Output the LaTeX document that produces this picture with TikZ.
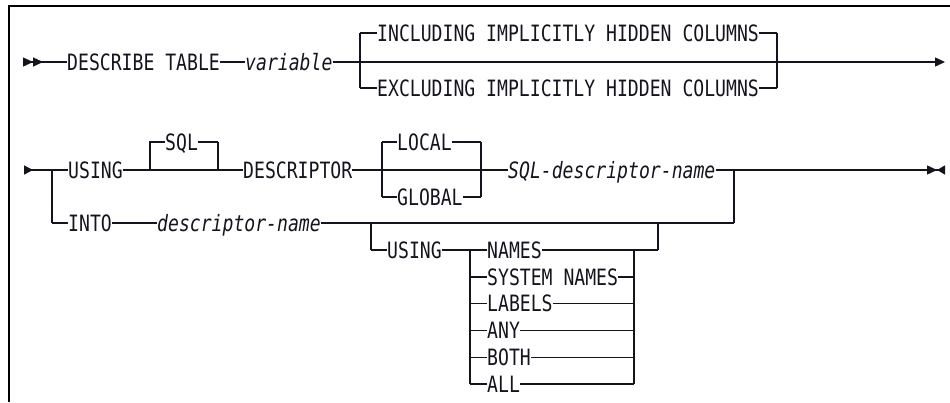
\documentclass[tikz,border=0pt]{standalone}
\usepackage{fontspec}
\usepackage{tikz}
\usetikzlibrary{arrows.meta}
\newfontfamily\railfont[FakeStretch=0.805]{DejaVu Sans Mono}
\definecolor{railink}{RGB}{20, 20, 30}

\begin{document}
\begin{tikzpicture}[x=1pt, y=-1pt,
    kw/.style={font=\railfont\fontsize{22.5}{24}\selectfont, text=railink, inner sep=0pt, anchor=west, text height=16.4pt, text depth=0pt},
    var/.style={kw, font=\railfont\itshape\fontsize{22.5}{24}\selectfont},
    rail/.style={draw=railink, line width=1.4pt},
    bar/.style={draw=railink, line width=2.8pt},
    sbar/.style={draw=railink, line width=1.9pt}]
    \useasboundingbox (0,0) rectangle (950,402);
    \draw[line width=2pt] (9,402) -- (9,6) -- (950,6);
    % first line
    \coordinate (s1) at (23,62);
    \coordinate (e1) at (945,62);
    \coordinate (b1l) at (360,62);
    \coordinate (b1r) at (777,62);
    \node[kw] (desc) at (67,62) {DESCRIBE TABLE};
    \node[var] (var) at (245,62) {variable};
    \node[kw] (incl) at (377,33) {INCLUDING IMPLICITLY HIDDEN COLUMNS};
    \node[kw] (excl) at (377,88) {EXCLUDING IMPLICITLY HIDDEN COLUMNS};
    \draw[rail, {Triangle[reversed,length=10pt,width=9pt]Triangle[reversed,length=10pt,width=9pt]}-] (s1) -- (desc.west);
    \draw[rail] (desc.east) -- (var.west);
    \draw[rail, -{Triangle[length=10pt,width=9pt]}] (var.east) -- (e1);
    \draw[rail] (b1l |- incl) -- (incl.west);
    \draw[rail] (b1l |- excl) -- (excl.west);
    \draw[bar] (b1l |- incl) -- (b1l |- excl);
    \draw[rail] (incl.east) -- (b1r |- incl);
    \draw[rail] (excl.east) -- (b1r |- excl);
    \draw[sbar] (b1r |- incl) -- (b1r |- excl);
    % second line
    \coordinate (s2) at (24,170);
    \coordinate (e2) at (945,170);
    \coordinate (jL) at (52,170);
    \coordinate (sqlL) at (150,170);
    \coordinate (sqlR) at (218,170);
    \coordinate (lgL) at (382,170);
    \coordinate (lgR) at (481,170);
    \coordinate (jR) at (734,170);
    \node[kw] (using) at (68,170) {USING};
    \node[kw] (sql) at (165,142) {SQL};
    \node[kw] (descr) at (243,170) {DESCRIPTOR};
    \node[kw] (local) at (397,142) {LOCAL};
    \node[kw] (global) at (397,197) {GLOBAL};
    \node[var] (sqlname) at (508,170) {SQL-descriptor-name};
    \draw[rail, {Triangle[reversed,length=9pt,width=9pt]}-] (s2) -- (using.west);
    \draw[rail] (using.east) -- (descr.west);
    \draw[rail] (sqlL) |- (sql.west);
    \draw[rail] (sql.east) -- (sqlR |- sql);
    \draw[bar] (sqlR |- sql) -- (sqlR);
    \draw[rail] (descr.east) -- (sqlname.west);
    \draw[rail] (lgL |- local) -- (lgL |- global);
    \draw[rail] (lgL |- local) -- (local.west);
    \draw[rail] (lgL |- global) -- (global.west);
    \draw[rail] (local.east) -- (lgR |- local);
    \draw[rail] (global.east) -- (lgR |- global);
    \draw[bar] (lgR |- local) -- (lgR |- global);
    \draw[rail, -{Triangle[length=10pt,width=9pt]Triangle[reversed,length=8pt,width=9pt]}] (sqlname.east) -- (e2);
    % into branch
    \coordinate (optL) at (371,223);
    \coordinate (optR) at (658,223);
    \coordinate (chL) at (470,250);
    \coordinate (chR) at (634,250);
    \node[kw] (into) at (68,223) {INTO};
    \node[var] (dname) at (157,223) {descriptor-name};
    \node[kw] (using2) at (387,250) {USING};
    \node[kw] (names) at (487,250) {NAMES};
    \node[kw] (sysnames) at (487,276.8) {SYSTEM NAMES};
    \node[kw] (labels) at (487,303.6) {LABELS};
    \node[kw] (any) at (487,330.4) {ANY};
    \node[kw] (both) at (487,357.2) {BOTH};
    \node[kw] (all) at (487,384) {ALL};
    \draw[bar] (jL) -- (jL |- into);
    \draw[rail] (jL |- into) -- (into.west);
    \draw[rail] (into.east) -- (dname.west);
    \draw[rail] (dname.east) -- (jR |- dname);
    \draw[bar] (jR |- dname) -- (jR);
    \draw[bar] (optL) -- (optL |- using2);
    \draw[rail] (optL |- using2) -- (using2.west);
    \draw[rail] (using2.east) -- (names.west);
    \draw[rail] (chR) -- (optR |- names);
    \draw[bar] (optR |- names) -- (optR);
    \draw[rail] (chL) -- (chL |- all);
    \foreach \n in {names,sysnames,labels,any,both,all} {
      \draw[rail] (chL |- \n) -- (\n.west);
      \draw[rail] (\n.east) -- (chR |- \n);
    }
    \draw[bar] (chR) -- (chR |- all);
\end{tikzpicture}
\end{document}
